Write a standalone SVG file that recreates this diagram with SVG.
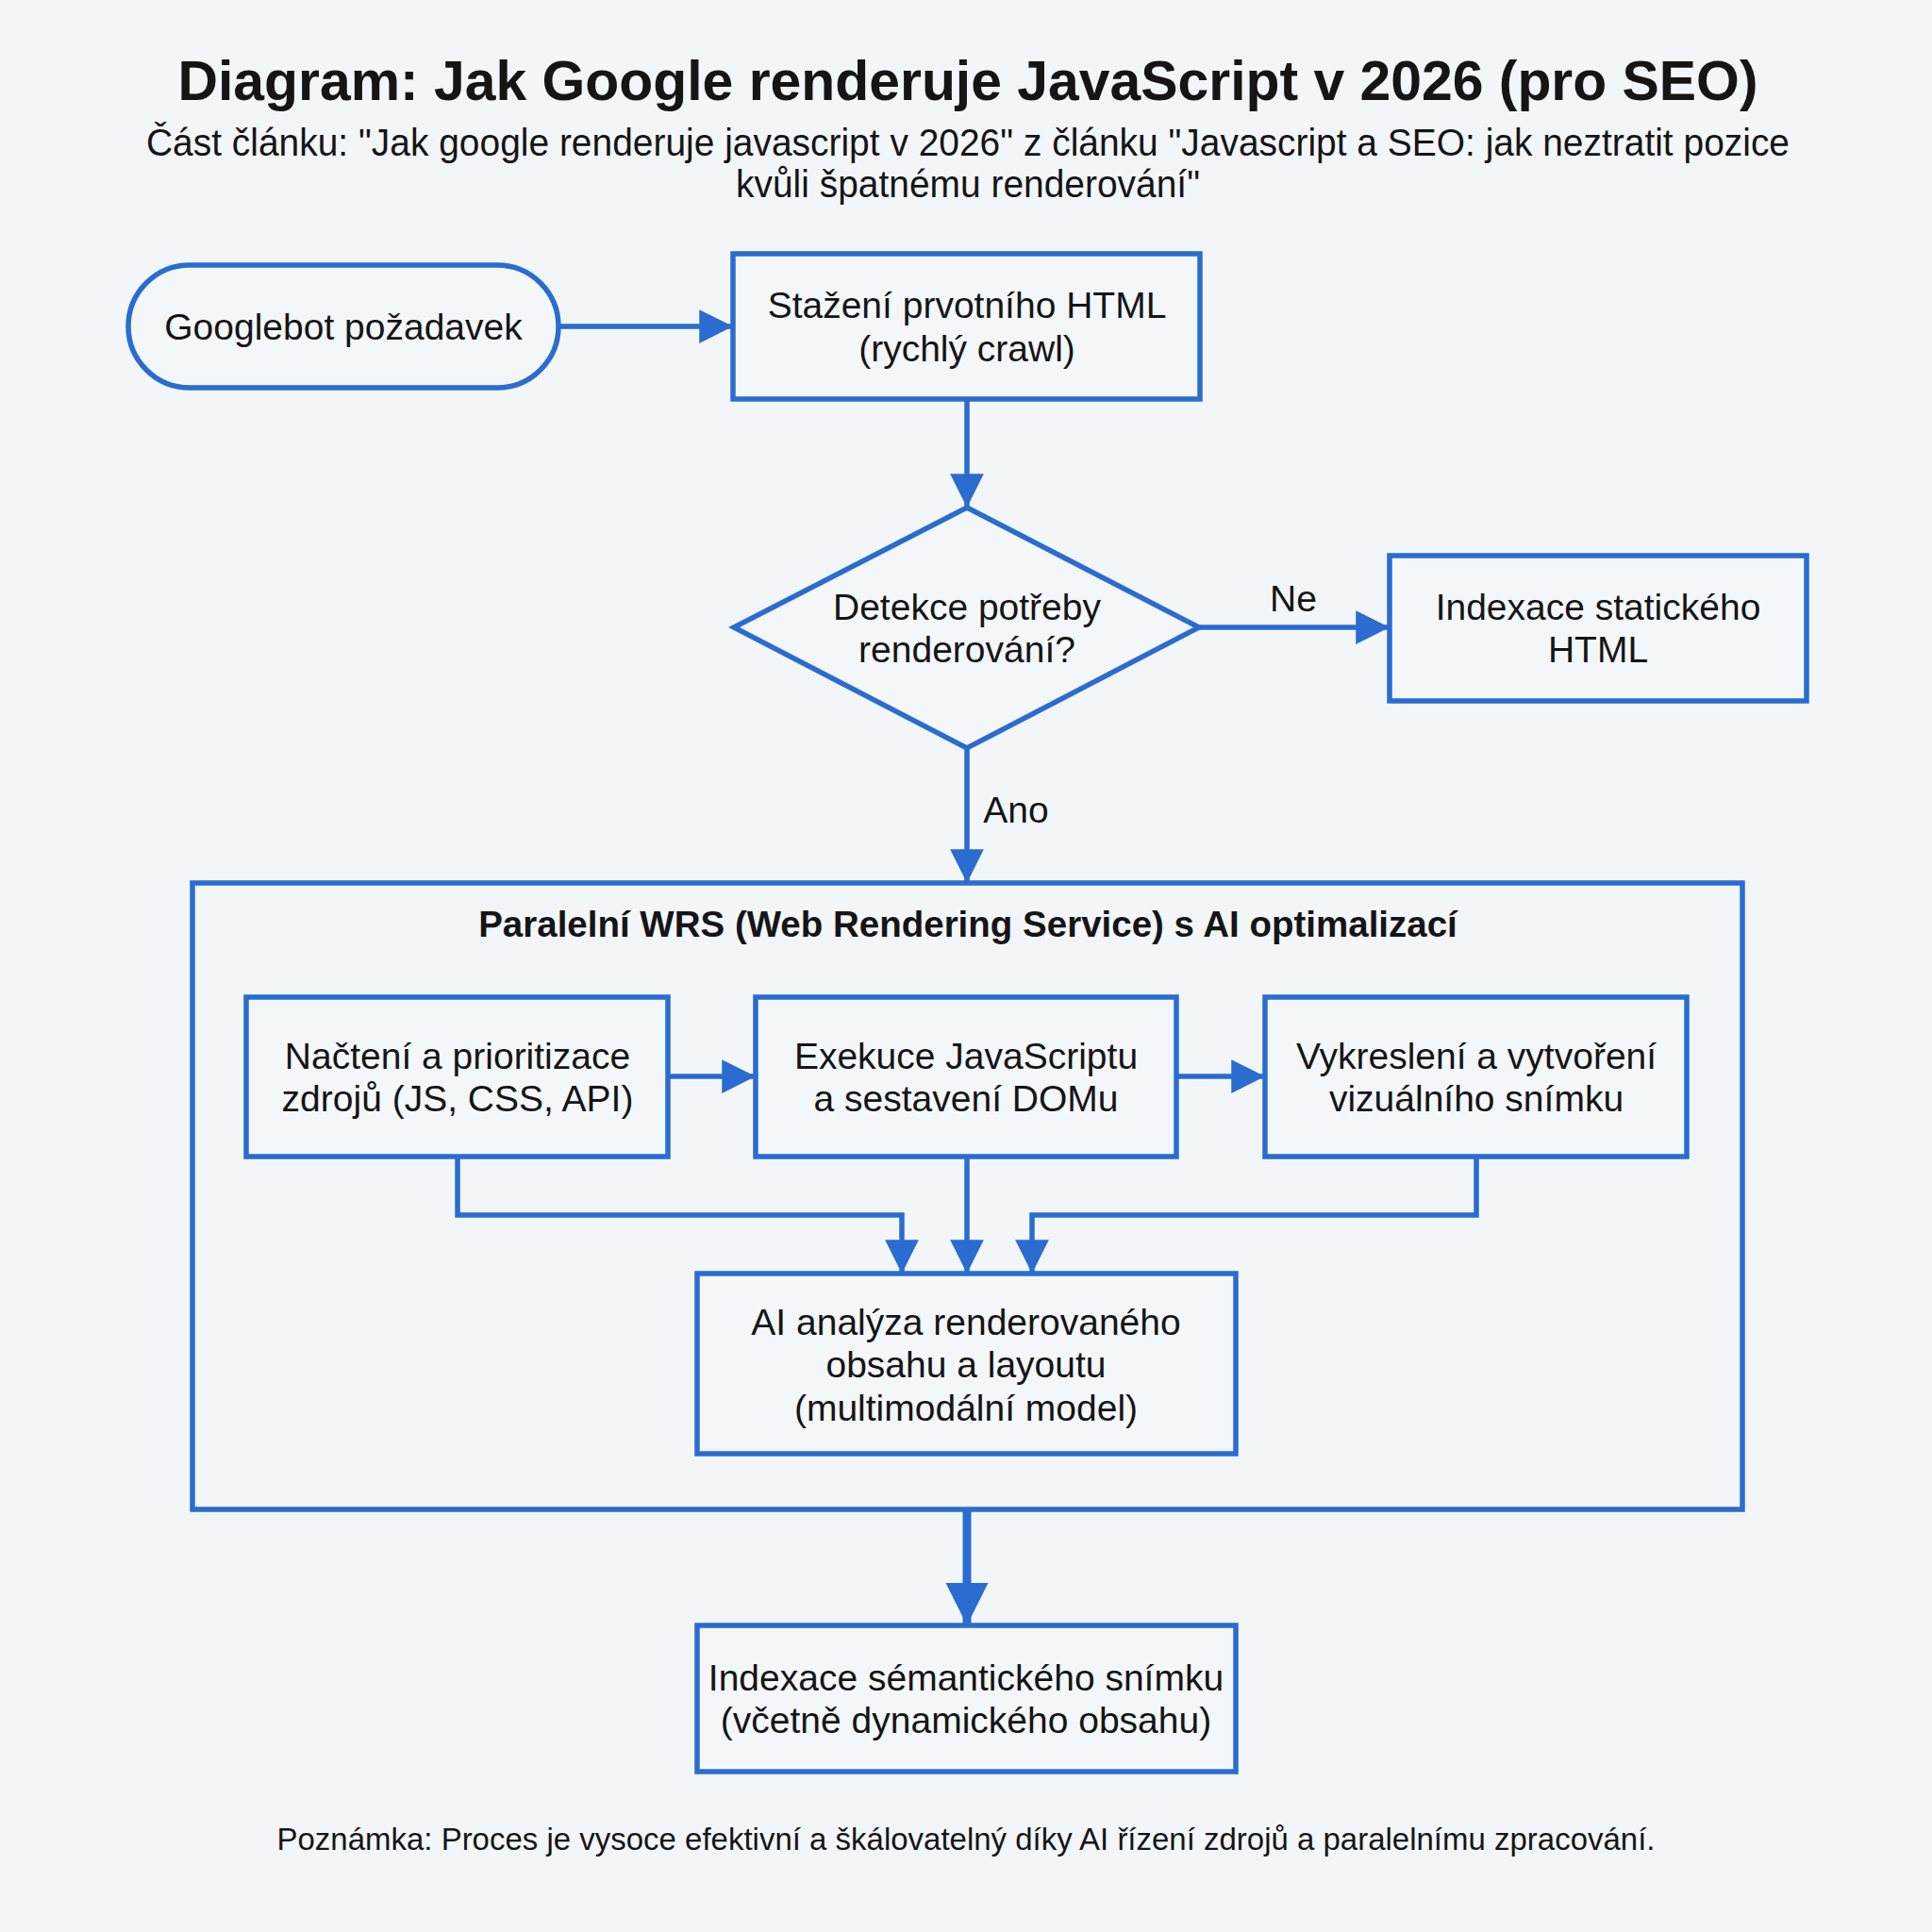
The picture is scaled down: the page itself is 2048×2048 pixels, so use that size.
<svg xmlns="http://www.w3.org/2000/svg" width="2048" height="2048" viewBox="0 0 2048 2048">
<defs>
<style>
.bg{fill:#f3f6f9}
.box{fill:#f4f7fa;stroke:#2a6cd0;stroke-width:5.5}
.frame{fill:none;stroke:#2a6cd0;stroke-width:5.5}
.ln{fill:none;stroke:#2a6cd0;stroke-width:5.5}
.thick{fill:none;stroke:#2a6cd0;stroke-width:9}
.t{font-family:"Liberation Sans",Arial,sans-serif;fill:#151515;text-anchor:middle}
.n{font-size:39px}
.title{font-size:60px;font-weight:bold}
.sub{font-size:40px}
.grp{font-size:38.5px;font-weight:bold}
.lbl{font-size:39px}
.note{font-size:34px}
</style>
<marker id="ah" viewBox="0 0 10 10" refX="10" refY="5" markerWidth="6.5" markerHeight="7" markerUnits="strokeWidth" orient="auto">
<path d="M0,0 L10,5 L0,10 z" fill="#2a6cd0"/>
</marker>
<marker id="ahb" viewBox="0 0 10 10" refX="10" refY="5" markerWidth="5" markerHeight="6" markerUnits="strokeWidth" orient="auto">
<path d="M0,0 L10,5 L0,10 z" fill="#2a6cd0"/>
</marker>
</defs>
<rect class="bg" x="0" y="0" width="2048" height="2048"/>

<g id="title">
<text class="t title" x="1026" y="106" textLength="1675" lengthAdjust="spacingAndGlyphs">Diagram: Jak Google renderuje JavaScript v 2026 (pro SEO)</text>
<text class="t sub" x="1026" y="165" textLength="1742" lengthAdjust="spacingAndGlyphs">Část článku: "Jak google renderuje javascript v 2026" z článku "Javascript a SEO: jak neztratit pozice</text>
<text class="t sub" x="1026" y="209" textLength="492" lengthAdjust="spacingAndGlyphs">kvůli špatnému renderování"</text>
</g>

<g id="wrs">
<rect class="frame" x="204" y="936" width="1643" height="664"/>
<text class="t grp" x="1026" y="993">Paralelní WRS (Web Rendering Service) s AI optimalizací</text>
</g>

<g id="connectors">
<line class="ln" x1="592" y1="346" x2="777" y2="346" marker-end="url(#ah)"/>
<line class="ln" x1="1025" y1="423" x2="1025" y2="538" marker-end="url(#ah)"/>
<line class="ln" x1="1271" y1="665" x2="1473" y2="665" marker-end="url(#ah)"/>
<line class="ln" x1="1025" y1="793" x2="1025" y2="936" marker-end="url(#ah)"/>
<line class="ln" x1="708" y1="1141" x2="801" y2="1141" marker-end="url(#ah)"/>
<line class="ln" x1="1247" y1="1141" x2="1341" y2="1141" marker-end="url(#ah)"/>
<polyline class="ln" points="485,1226 485,1288 956,1288 956,1350" marker-end="url(#ah)"/>
<line class="ln" x1="1025" y1="1226" x2="1025" y2="1350" marker-end="url(#ah)"/>
<polyline class="ln" points="1565,1226 1565,1288 1094,1288 1094,1350" marker-end="url(#ah)"/>
<line class="thick" x1="1025" y1="1600" x2="1025" y2="1723" marker-end="url(#ahb)"/>
<text class="t lbl" x="1371" y="648">Ne</text>
<text class="t lbl" x="1077" y="872">Ano</text>
</g>

<g id="start">
<rect class="box" x="136" y="281" width="456" height="130" rx="65" ry="65"/>
<text class="t n" x="364" y="360">Googlebot požadavek</text>
</g>

<g id="fetch">
<rect class="box" x="777" y="269" width="495" height="154"/>
<text class="t n" x="1025" y="337">Stažení prvotního HTML</text>
<text class="t n" x="1025" y="383">(rychlý crawl)</text>
</g>

<g id="decision">
<polygon class="box" points="1025,538 1271,665 1025,793 778,665"/>
<text class="t n" x="1025" y="657">Detekce potřeby</text>
<text class="t n" x="1025" y="702">renderování?</text>
</g>

<g id="static">
<rect class="box" x="1473" y="589" width="442" height="154"/>
<text class="t n" x="1694" y="657">Indexace statického</text>
<text class="t n" x="1694" y="702">HTML</text>
</g>

<g id="load">
<rect class="box" x="261" y="1057" width="447" height="169"/>
<text class="t n" x="485" y="1133">Načtení a prioritizace</text>
<text class="t n" x="485" y="1178">zdrojů (JS, CSS, API)</text>
</g>

<g id="exec">
<rect class="box" x="801" y="1057" width="446" height="169"/>
<text class="t n" x="1024" y="1133">Exekuce JavaScriptu</text>
<text class="t n" x="1024" y="1178">a sestavení DOMu</text>
</g>

<g id="paint">
<rect class="box" x="1341" y="1057" width="447" height="169"/>
<text class="t n" x="1565" y="1133">Vykreslení a vytvoření</text>
<text class="t n" x="1565" y="1178">vizuálního snímku</text>
</g>

<g id="ai">
<rect class="box" x="739" y="1350" width="571" height="191"/>
<text class="t n" x="1024" y="1415">AI analýza renderovaného</text>
<text class="t n" x="1024" y="1460">obsahu a layoutu</text>
<text class="t n" x="1024" y="1506">(multimodální model)</text>
</g>

<g id="index">
<rect class="box" x="739" y="1723" width="571" height="155"/>
<text class="t n" x="1024" y="1792">Indexace sémantického snímku</text>
<text class="t n" x="1024" y="1837">(včetně dynamického obsahu)</text>
</g>

<g id="note">
<text class="t note" x="1024" y="1961" textLength="1461" lengthAdjust="spacingAndGlyphs">Poznámka: Proces je vysoce efektivní a škálovatelný díky AI řízení zdrojů a paralelnímu zpracování.</text>
</g>
</svg>
